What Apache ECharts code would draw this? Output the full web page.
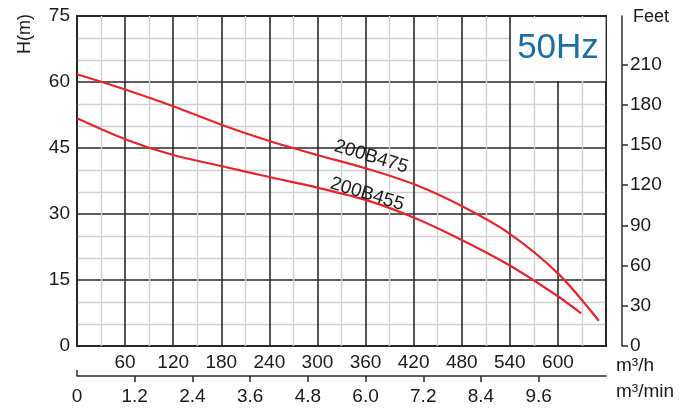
<!DOCTYPE html>
<html>
<head>
<meta charset="utf-8">
<script src="https://cdn.jsdelivr.net/npm/echarts@6/dist/echarts.min.js"></script>
<style>
html,body{margin:0;padding:0;background:#fff;}
#chart{width:681px;height:412px;}
</style>
</head>
<body>
<div id="chart"></div>
<script>
// ---- data ----
const flowHigh = [0, 60, 120, 180, 240, 300, 360, 420, 480, 540, 600, 651];
const headHigh = [61.75, 58.3, 54.5, 50.3, 46.6, 43.4, 40.4, 36.8, 31.8, 25.5, 16.5, 5.75];
const flowLow  = [0, 60, 120, 180, 240, 300, 360, 420, 480, 540, 600, 629];
const headLow  = [51.75, 47.0, 43.4, 40.9, 38.4, 36.0, 33.2, 29.2, 24.1, 18.3, 11.3, 7.4];
const seriesNames = ['200B475', '200B455'];
const labelAnchorHigh = [367, 43.0];
const labelAnchorLow = [362, 34.5];
const flowTicks = [60, 120, 180, 240, 300, 360, 420, 480, 540, 600];
const minTicks = [0, 1.2, 2.4, 3.6, 4.8, 6.0, 7.2, 8.4, 9.6];
const feetTicks = [0, 30, 60, 90, 120, 150, 180, 210];
const hzBox = [[541.5, 74.8], [659.5, 60.25]];

const FONT = 'Liberation Sans, Arial, sans-serif';
const TXT = '#1a1a1a';
const RED = '#e3262d';
const MAJOR = '#2a2a2a';
const MINOR = '#cfcfcf';

const chart = echarts.init(document.getElementById('chart'));
const pairs = (xs, ys) => xs.map((x, i) => [x, ys[i]]);

chart.setOption({
  animation: false,
  backgroundColor: '#fff',
  grid: { left: 77, top: 16, right: 75, bottom: 66, show: true, borderColor: MAJOR, borderWidth: 2, backgroundColor: 'transparent' },
  xAxis: [
    { type: 'value', position: 'bottom', min: 0, max: 660, interval: 60,
      axisLine: { show: false, onZero: false }, axisTick: { show: false },
      splitLine: { show: true, lineStyle: { color: MAJOR, width: 1.6 } },
      minorTick: { show: false, splitNumber: 2 },
      minorSplitLine: { show: true, lineStyle: { color: MINOR, width: 1.4 } },
      axisLabel: { customValues: flowTicks, margin: 7, fontSize: 19, color: TXT, fontFamily: FONT } },
    { type: 'value', position: 'bottom', offset: 30, min: 0, max: 11,
      axisLine: { show: true, onZero: false, lineStyle: { color: MAJOR, width: 1.5 } },
      axisTick: { show: true, customValues: minTicks.slice(1), length: 6, lineStyle: { color: MAJOR, width: 1.5 } },
      splitLine: { show: false },
      axisLabel: { customValues: minTicks, margin: 11, fontSize: 19, color: TXT, fontFamily: FONT,
        formatter: v => v === 0 ? '0' : v.toFixed(1) } },
    { type: 'value', position: 'bottom', offset: 30, min: 0, max: 11,
      axisLine: { show: false, onZero: false },
      axisTick: { show: true, inside: true, customValues: [0], length: 6, lineStyle: { color: MAJOR, width: 1.5 } },
      splitLine: { show: false }, axisLabel: { show: false } }
  ],
  yAxis: [
    { type: 'value', position: 'left', min: 0, max: 75, interval: 15,
      axisLine: { show: false, onZero: false }, axisTick: { show: false },
      splitLine: { show: true, lineStyle: { color: MAJOR, width: 1.6 } },
      minorTick: { show: false, splitNumber: 3 },
      minorSplitLine: { show: true, lineStyle: { color: MINOR, width: 1.4 } },
      axisLabel: { margin: 7, fontSize: 19, color: TXT, fontFamily: FONT } },
    { type: 'value', position: 'right', offset: 16, min: 0, max: 75 * 3.28084,
      axisLine: { show: true, onZero: false, lineStyle: { color: MAJOR, width: 1.5 } },
      axisTick: { show: true, customValues: feetTicks, length: 6, lineStyle: { color: MAJOR, width: 1.5 } },
      splitLine: { show: false },
      axisLabel: { customValues: feetTicks, margin: 8, fontSize: 19, color: TXT, fontFamily: FONT } }
  ],
  graphic: [
    { type: 'text', x: 25, y: 34, rotation: Math.PI / 2,
      style: { text: 'H(m)', font: '18px ' + FONT, fill: TXT, align: 'center', verticalAlign: 'middle' } },
    { type: 'text', x: 633, y: 17,
      style: { text: 'Feet', font: '18px ' + FONT, fill: TXT, align: 'left', verticalAlign: 'middle' } },
    { type: 'text', x: 616, y: 366,
      style: { text: 'm³/h', font: '19px ' + FONT, fill: TXT, align: 'left', verticalAlign: 'middle' } },
    { type: 'text', x: 616, y: 392,
      style: { text: 'm³/min', font: '19px ' + FONT, fill: TXT, align: 'left', verticalAlign: 'middle' } },
    { type: 'text', x: 558, y: 48, z: 100,
      style: { text: '50Hz', font: '35px ' + FONT, fill: '#1c6fa4', align: 'center', verticalAlign: 'middle' } }
  ],
  series: [
    { type: 'line', name: seriesNames[0], xAxisIndex: 0, yAxisIndex: 0, smooth: 0.3, symbol: 'none',
      lineStyle: { color: RED, width: 2.2 }, data: pairs(flowHigh, headHigh),
      markArea: { silent: true, itemStyle: { color: '#fff' }, data: [[{ coord: hzBox[0] }, { coord: hzBox[1] }]] },
      markPoint: { symbolSize: 0, silent: true, data: [{ coord: labelAnchorHigh, value: seriesNames[0] }],
        label: { show: true, position: 'inside', rotate: -17, formatter: seriesNames[0], fontSize: 19, color: TXT, fontFamily: FONT } } },
    { type: 'line', name: seriesNames[1], xAxisIndex: 0, yAxisIndex: 0, smooth: 0.3, symbol: 'none',
      lineStyle: { color: RED, width: 2.2 }, data: pairs(flowLow, headLow),
      markPoint: { symbolSize: 0, silent: true, data: [{ coord: labelAnchorLow, value: seriesNames[1] }],
        label: { show: true, position: 'inside', rotate: -17, formatter: seriesNames[1], fontSize: 19, color: TXT, fontFamily: FONT } } }
  ]
});
</script>
</body>
</html>
